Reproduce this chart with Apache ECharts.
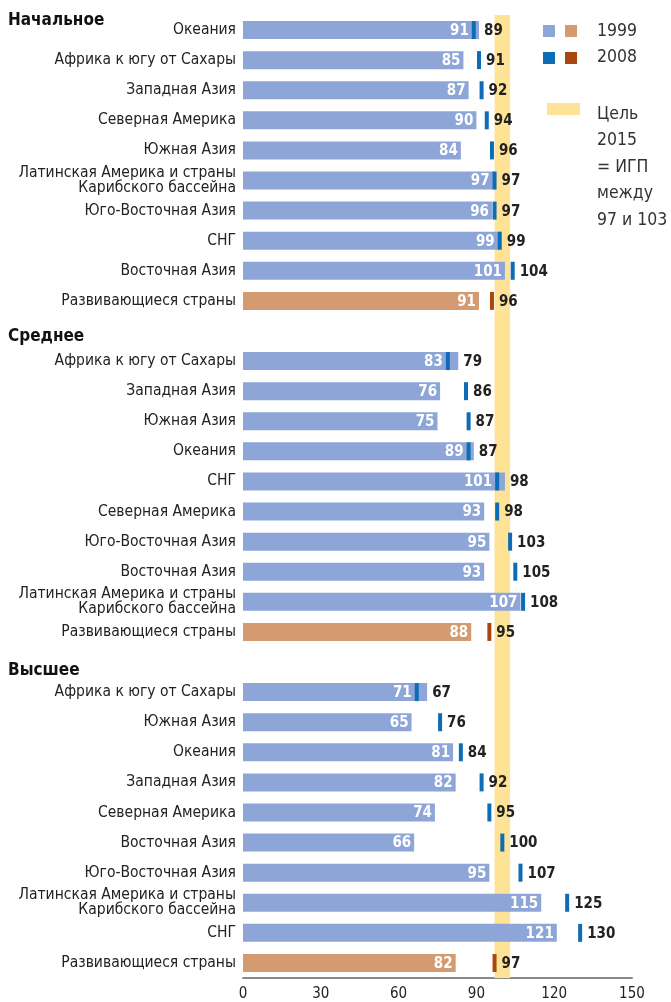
<!DOCTYPE html>
<html>
<head>
<meta charset="utf-8">
<script src="https://cdn.jsdelivr.net/npm/echarts@6/dist/echarts.min.js"></script>
<style>
html, body { margin: 0; padding: 0; background: #fff; }
#echarts { width: 671px; height: 1002px; }
</style>
</head>
<body>
<div id="echarts"></div>
<script>
var LA = 'Латинская Америка и страны\nКарибского бассейна';
// группы: Начальное, Среднее, Высшее
var groups = ['Начальное', 'Среднее', 'Высшее'];
var regionsPrimary = ['Океания', 'Африка к югу от Сахары', 'Западная Азия', 'Северная Америка', 'Южная Азия', LA, 'Юго-Восточная Азия', 'СНГ', 'Восточная Азия', 'Развивающиеся страны'];
var primary1999 = [91, 85, 87, 90, 84, 97, 96, 99, 101, 91];
var primary2008 = [89, 91, 92, 94, 96, 97, 97, 99, 104, 96];

var regionsSecondary = ['Африка к югу от Сахары', 'Западная Азия', 'Южная Азия', 'Океания', 'СНГ', 'Северная Америка', 'Юго-Восточная Азия', 'Восточная Азия', LA, 'Развивающиеся страны'];
var secondary1999 = [83, 76, 75, 89, 101, 93, 95, 93, 107, 88];
var secondary2008 = [79, 86, 87, 87, 98, 98, 103, 105, 108, 95];

var regionsTertiary = ['Африка к югу от Сахары', 'Южная Азия', 'Океания', 'Западная Азия', 'Северная Америка', 'Восточная Азия', 'Юго-Восточная Азия', LA, 'СНГ', 'Развивающиеся страны'];
var tertiary1999 = [71, 65, 81, 82, 74, 66, 95, 115, 121, 82];
var tertiary2008 = [67, 76, 84, 92, 95, 100, 107, 125, 130, 97];

var xTicks = [0, 30, 60, 90, 120, 150];
var target = [97, 103];

var FONT = '"DejaVu Sans Condensed", "DejaVu Sans", sans-serif';
var blue1999 = '#8DA6D7', tan1999 = '#D49A70';
var blue2008 = '#0D6CB6', brown2008 = '#A8470F';

// собрать категории с пустыми строками между группами
var categories = [], v1999 = [], v2008 = [];
[[regionsPrimary, primary1999, primary2008], [regionsSecondary, secondary1999, secondary2008], [regionsTertiary, tertiary1999, tertiary2008]].forEach(function (g, gi) {
    if (gi > 0) { categories.push(''); v1999.push(null); v2008.push(null); }
    for (var i = 0; i < g[0].length; i++) {
        categories.push(g[0][i]);
        v1999.push(g[1][i]);
        v2008.push(g[2][i]);
    }
});

var barData = [], markData = [];
for (var i = 0; i < categories.length; i++) {
    if (v1999[i] == null) { barData.push('-'); continue; }
    var dev = categories[i] === 'Развивающиеся страны';
    barData.push({ value: v1999[i], itemStyle: { color: dev ? tan1999 : blue1999 } });
    markData.push([v2008[i], i, v1999[i], dev ? 1 : 0]);
}

var myChart = echarts.init(document.getElementById('echarts'));
var option = {
    animation: false,
    grid: { left: 243, right: 39, top: 15, bottom: 24 },
    xAxis: {
        type: 'value',
        min: 0, max: 150, interval: 30,
        axisLine: { show: true, lineStyle: { color: '#8a8a8a', width: 2 } },
        axisTick: { show: false },
        splitLine: { show: false },
        axisLabel: {
            color: '#222', fontSize: 15, fontFamily: FONT, margin: 9,
            formatter: function (v) { return xTicks.indexOf(v) >= 0 ? String(v) : ''; }
        }
    },
    yAxis: {
        type: 'category',
        inverse: true,
        data: categories,
        axisLine: { show: false },
        axisTick: { show: false },
        axisLabel: { color: '#222', fontSize: 15.5, fontFamily: FONT, lineHeight: 15, margin: 7, interval: 0 }
    },
    series: [{
        name: '1999',
        type: 'bar',
        data: barData,
        barWidth: 18,
        markArea: {
            silent: true,
            itemStyle: { color: '#FEE396' },
            data: [[{ xAxis: target[0] }, { xAxis: target[1] }]]
        }
    }, {
        name: '2008',
        type: 'custom',
        data: markData,
        encode: { x: 0, y: 1 },
        z: 5,
        renderItem: function (params, api) {
            var v = api.value(0), idx = api.value(1);
            var p = api.coord([v, idx]);
            var b = api.coord([api.value(2), idx]);
            var h = 18;
            var right = Math.max(p[0] + 2, b[0]);
            var inner = Math.min(p[0] - 2, b[0]);
            return {
                type: 'group',
                children: [{
                    type: 'rect',
                    shape: { x: p[0] - 2, y: p[1] - h / 2, width: 4, height: h },
                    style: { fill: api.value(3) ? brown2008 : blue2008 }
                }, {
                    type: 'text',
                    style: {
                        text: String(api.value(2)), x: inner - 3, y: p[1] + 1,
                        align: 'right', verticalAlign: 'middle',
                        font: 'bold 15px ' + FONT, fill: '#fff'
                    }
                }, {
                    type: 'text',
                    style: {
                        text: String(v), x: right + 5, y: p[1] + 1,
                        align: 'left', verticalAlign: 'middle',
                        font: 'bold 15px ' + FONT, fill: '#222'
                    }
                }]
            };
        }
    }],
    graphic: [
        { type: 'text', left: 8, top: 12, style: { text: groups[0], font: 'bold 17px ' + FONT, fill: '#111' } },
        { type: 'text', left: 8, top: 328, style: { text: groups[1], font: 'bold 17px ' + FONT, fill: '#111' } },
        { type: 'text', left: 8, top: 662, style: { text: groups[2], font: 'bold 17px ' + FONT, fill: '#111' } },
        // легенда
        { type: 'rect', shape: { x: 543, y: 25, width: 12, height: 12 }, style: { fill: blue1999 } },
        { type: 'rect', shape: { x: 565, y: 25, width: 12, height: 12 }, style: { fill: tan1999 } },
        { type: 'rect', shape: { x: 543, y: 52, width: 12, height: 12 }, style: { fill: blue2008 } },
        { type: 'rect', shape: { x: 565, y: 52, width: 12, height: 12 }, style: { fill: brown2008 } },
        { type: 'text', left: 597, top: 22, style: { text: '1999', font: '17.5px ' + FONT, fill: '#333' } },
        { type: 'text', left: 597, top: 48, style: { text: '2008', font: '17.5px ' + FONT, fill: '#333' } },
        { type: 'rect', shape: { x: 547, y: 103, width: 33, height: 12 }, style: { fill: '#FEE396' } },
        { type: 'text', left: 597, top: 101, style: { text: 'Цель\n2015\n= ИГП\nмежду\n97 и 103', font: '17.5px ' + FONT, lineHeight: 26.5, fill: '#333' } }
    ]
};
myChart.setOption(option);
</script>
</body>
</html>
